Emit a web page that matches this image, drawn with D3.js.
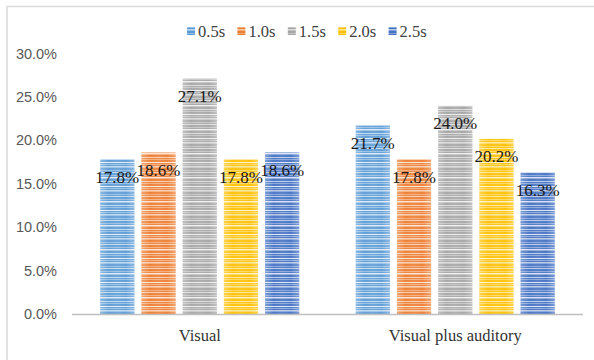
<!DOCTYPE html>
<html>
<head>
<meta charset="utf-8">
<script src="https://cdn.jsdelivr.net/npm/d3@7"></script>
<style>
  html, body { margin: 0; padding: 0; background: #fff; }
  svg { display: block; }
</style>
</head>
<body>
<svg id="chart" width="594" height="360"></svg>
<script>
// Response share by stimulus mode and interval
const categories = ["Visual", "Visual plus auditory"];
const seriesNames = ["0.5s", "1.0s", "1.5s", "2.0s", "2.5s"];
const visualValues = [0.178, 0.186, 0.271, 0.178, 0.186];
const visualAuditoryValues = [0.217, 0.178, 0.240, 0.202, 0.163];
const seriesColors = ["#5B9BD5", "#ED7D31", "#A5A5A5", "#FFC000", "#4472C4"];
const yTicks = [0, 0.05, 0.10, 0.15, 0.20, 0.25, 0.30];

const SERIF = '"Liberation Serif", "Times New Roman", Times, serif';
const SANS = '"Liberation Sans", Arial, sans-serif';

const values = [visualValues, visualAuditoryValues];
const data = categories.map((c, i) => ({
  category: c,
  bars: seriesNames.map((s, j) => ({ series: s, index: j, value: values[i][j] }))
}));

const svg = d3.select("#chart");
const W = 594, H = 360;

// Chart frame (runs off the right/bottom edge of the page)
svg.append("rect")
  .attr("x", 7).attr("y", 6.5)
  .attr("width", W + 10).attr("height", H + 10)
  .attr("fill", "#fff")
  .attr("stroke", "#d9d9d9").attr("stroke-width", 1.5);

const plot = { left: 72, right: 583, top: 53.5, bottom: 314 };

const x0 = d3.scaleBand()
  .domain(categories)
  .range([plot.left, plot.right])
  .paddingInner(0.221)
  .paddingOuter(0.1105);

const x1 = d3.scaleBand()
  .domain(seriesNames)
  .range([0, x0.bandwidth()])
  .paddingInner(0.17)
  .paddingOuter(0);

const y = d3.scaleLinear()
  .domain([0, 0.30])
  .range([plot.bottom, plot.top]);

// Striped fills: horizontal lines of the series colour with lighter tints
const defs = svg.append("defs");
const stripeRows = [0, 0, 1, 0, 2, 0, 0, 1, 0, 3, 1, 0, 0, 2, 0, 1, 0, 0, 3, 0, 1, 0, 2, 1];
const tintAmount = [0, 0.35, 0.6, 0.8];

seriesColors.forEach((col, i) => {
  const pat = defs.append("pattern")
    .attr("id", "stripe" + i)
    .attr("patternUnits", "userSpaceOnUse")
    .attr("width", 8).attr("height", stripeRows.length);
  stripeRows.forEach((t, r) => {
    pat.append("rect")
      .attr("x", 0).attr("y", r)
      .attr("width", 8).attr("height", 1)
      .attr("fill", d3.interpolateRgb(col, "#ffffff")(tintAmount[t]));
  });
});

// Soft light edges across the width of each bar
const edge = defs.append("linearGradient")
  .attr("id", "edgeGlow")
  .attr("x1", "0").attr("x2", "1").attr("y1", "0").attr("y2", "0");
[[0, 0.3], [0.25, 0.05], [0.5, 0.12], [0.75, 0.05], [1, 0.3]].forEach(([o, a]) => {
  edge.append("stop").attr("offset", o).attr("stop-color", "#fff").attr("stop-opacity", a);
});

// Y tick labels
const yAxis = d3.axisLeft(y)
  .tickValues(yTicks)
  .tickFormat(d3.format(".1%"))
  .tickSize(0)
  .tickPadding(0);

const yG = svg.append("g")
  .attr("transform", `translate(${plot.left - 15},0)`)
  .call(yAxis);
yG.select(".domain").remove();
yG.attr("font-family", SANS).attr("font-size", 14.5);
yG.selectAll("text")
  .attr("fill", "#595959");

// Bars
const groups = svg.append("g").selectAll("g")
  .data(data)
  .join("g")
  .attr("transform", d => `translate(${x0(d.category)},0)`);

groups.selectAll("rect.bar")
  .data(d => d.bars)
  .join("rect")
  .attr("class", "bar")
  .attr("x", d => x1(d.series))
  .attr("y", d => y(d.value))
  .attr("width", x1.bandwidth())
  .attr("height", d => y(0) - y(d.value))
  .attr("fill", d => `url(#stripe${d.index})`);

groups.selectAll("rect.glow")
  .data(d => d.bars)
  .join("rect")
  .attr("class", "glow")
  .attr("x", d => x1(d.series))
  .attr("y", d => y(d.value))
  .attr("width", x1.bandwidth())
  .attr("height", d => y(0) - y(d.value))
  .attr("fill", "url(#edgeGlow)");

// X axis line
svg.append("line")
  .attr("x1", plot.left).attr("x2", plot.right)
  .attr("y1", plot.bottom + 0.5).attr("y2", plot.bottom + 0.5)
  .attr("stroke", "#bfbfbf").attr("stroke-width", 1.5);

// Value labels just inside the top of each bar
groups.selectAll("text.val")
  .data(d => d.bars)
  .join("text")
  .attr("class", "val")
  .attr("x", d => x1(d.series) + x1.bandwidth() / 2)
  .attr("y", d => y(d.value) + 18)
  .attr("text-anchor", "middle")
  .attr("dominant-baseline", "central")
  .attr("font-family", SERIF)
  .attr("font-size", 17)
  .attr("fill", "#1a1a1a")
  .text(d => d3.format(".1%")(d.value));

// Category labels
svg.append("g").selectAll("text")
  .data(categories)
  .join("text")
  .attr("x", d => x0(d) + x0.bandwidth() / 2)
  .attr("y", 335)
  .attr("text-anchor", "middle")
  .attr("dominant-baseline", "central")
  .attr("font-family", SERIF)
  .attr("font-size", 16.5)
  .attr("fill", "#333333")
  .text(d => d);

// Legend
const legend = svg.append("g").attr("transform", "translate(187,31)");
const item = legend.selectAll("g")
  .data(seriesNames)
  .join("g")
  .attr("transform", (d, i) => `translate(${i * 50.4},0)`);
item.append("rect")
  .attr("x", 0).attr("y", -4)
  .attr("width", 8).attr("height", 8)
  .attr("fill", (d, i) => `url(#stripe${i})`);
item.append("text")
  .attr("x", 11).attr("y", 0)
  .attr("dominant-baseline", "central")
  .attr("font-family", SERIF)
  .attr("font-size", 16.5)
  .attr("fill", "#404040")
  .text(d => d);
</script>
</body>
</html>
